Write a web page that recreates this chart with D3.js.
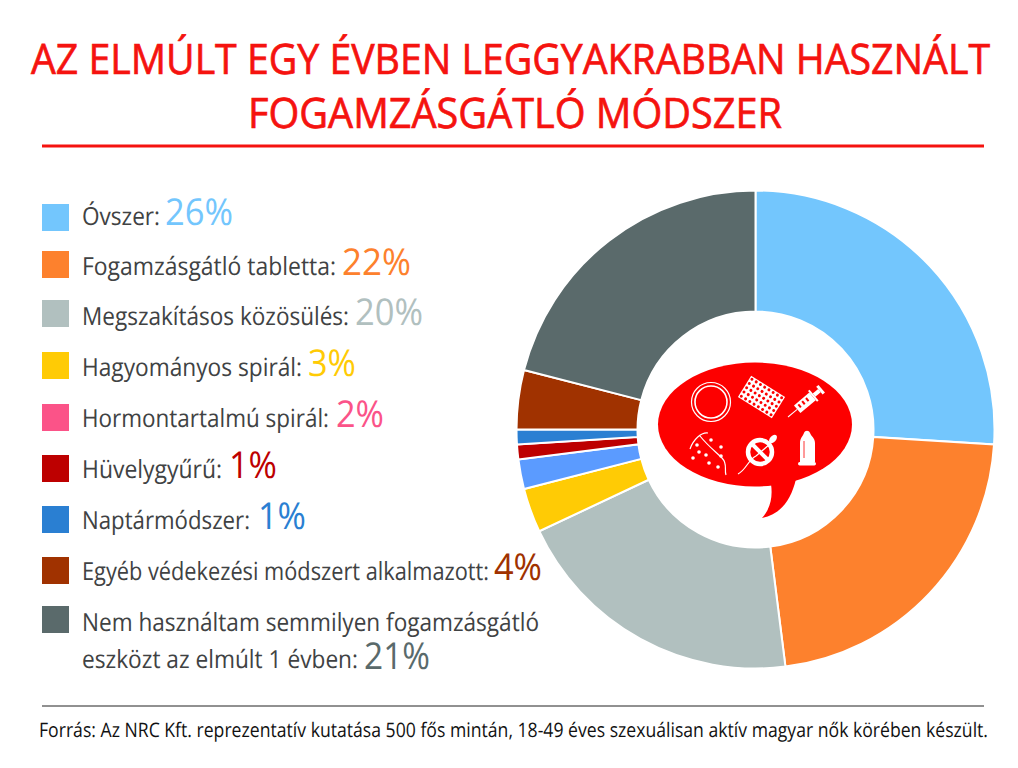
<!DOCTYPE html>
<html>
<head>
<meta charset="utf-8">
<script src="https://cdn.jsdelivr.net/npm/d3@7"></script>
<style>
  html, body { margin: 0; padding: 0; background: #fff; }
  text { font-family: "Open Sans", "Noto Sans", sans-serif; text-rendering: geometricPrecision; }
</style>
</head>
<body>
<svg id="chart" width="1018" height="768"></svg>
<script>
const categories = [
  "Óvszer:", "Fogamzásgátló tabletta:", "Megszakításos közösülés:", "Hagyományos spirál:",
  "Hormontartalmú spirál:", "Hüvelygyűrű:", "Naptármódszer:",
  "Egyéb védekezési módszert alkalmazott:", "Nem használtam semmilyen fogamzásgátló"
];
const lastLine = "eszközt az elmúlt 1 évben:";
const values = [26, 22, 20, 3, 2, 1, 1, 4, 21];
const legendColors = ["#73c6fd", "#fd812d", "#b1c0bf", "#ffcb05", "#fb5388", "#bd0000", "#2a7fd2", "#a03200", "#5a6a6b"];
// the 2% slice is blue in the pie, pink in the legend
const sliceColors = ["#73c6fd", "#fd812d", "#b1c0bf", "#ffcb05", "#5b9bff", "#bd0000", "#2a7fd2", "#a03200", "#5a6a6b"];

const rowY = [225, 275, 325, 376, 427, 478, 529, 580, 631];
const swatchY = [204, 251, 300, 352, 404, 455, 506, 557, 606];
const labelWidths = [78, 254, 267, 220, 247, 140, 168, 407, 457];
const valueX = [165, 342, 355, 308, 336, 229, 258, 494, 364];
const valueWidths = [68, 69, 68, 48, 48, 48, 48, 48, 66];

const svg = d3.select("#chart");
const red = "#f5130f";

// squeeze a text to the width it has in the picture, keeps the bbox honest
function addText(x, y, size, fill, str, width, weight) {
  const t = svg.append("text")
    .attr("font-size", size)
    .attr("font-weight", weight || 400)
    .attr("fill", fill)
    .text(str);
  const k = width / t.node().getComputedTextLength();
  t.attr("transform", `translate(${x},${y}) scale(${k},1)`);
  return t;
}

// title
addText(31, 74, 42, red, "AZ ELMÚLT EGY ÉVBEN LEGGYAKRABBAN HASZNÁLT", 959).attr("stroke", red).attr("stroke-width", 0.7);
addText(248, 128, 42, red, "FOGAMZÁSGÁTLÓ MÓDSZER", 534).attr("stroke", red).attr("stroke-width", 0.7);
svg.append("line").attr("x1", 42).attr("x2", 984).attr("y1", 146).attr("y2", 146).attr("stroke", red).attr("stroke-width", 3);

// legend
categories.forEach((c, i) => {
  svg.append("rect").attr("x", 42).attr("y", swatchY[i]).attr("width", 27).attr("height", 27).attr("fill", legendColors[i]);
  addText(82, rowY[i], 25, "#404243", c, labelWidths[i]);
  if (i < categories.length - 1) {
    addText(valueX[i], rowY[i], 37, legendColors[i], values[i] + "%", valueWidths[i]);
  }
});
const lastIndex = categories.length - 1;
addText(82, 668, 25, "#404243", lastLine, 276);
addText(valueX[lastIndex], 669, 37, legendColors[lastIndex], values[lastIndex] + "%", valueWidths[lastIndex]);

// donut
const pie = d3.pie().sort(null).value(d => d);
const arc = d3.arc().innerRadius(118).outerRadius(239);
const donut = svg.append("g").attr("transform", "translate(755.5,429.5)");
donut.selectAll("path")
  .data(pie(values))
  .enter()
  .append("path")
  .attr("d", arc)
  .attr("fill", (d, i) => sliceColors[i])
  .attr("stroke", "#fff")
  .attr("stroke-width", 2);

// speech bubble with the icons
const bubble = svg.append("g");
bubble.append("ellipse").attr("cx", 755).attr("cy", 424.5).attr("rx", 97).attr("ry", 62).attr("fill", "#fd0000");
bubble.append("path").attr("d", "M771,484 C773,498 770,509 762,518 C781,514 791,500 796,479 Z").attr("fill", "#fd0000");

// ring
bubble.append("circle").attr("cx", 711).attr("cy", 402).attr("r", 19.5).attr("fill", "none").attr("stroke", "#fff").attr("stroke-width", 1.2);
bubble.append("circle").attr("cx", 711).attr("cy", 402).attr("r", 16).attr("fill", "none").attr("stroke", "#fff").attr("stroke-width", 1.6);

// pill pack
const pack = bubble.append("g").attr("transform", "translate(761.5,397) rotate(32)");
pack.append("rect").attr("x", -20).attr("y", -12.5).attr("width", 40).attr("height", 25).attr("fill", "#fff");
d3.range(8).forEach(a => d3.range(5).forEach(b => {
  pack.append("circle").attr("cx", -17.5 + a * 5).attr("cy", -10 + b * 5).attr("r", 1.5).attr("fill", "#fd0000");
}));

// syringe
const syringe = bubble.append("g").attr("transform", "translate(788,417) rotate(-40)");
syringe.append("line").attr("x1", 0).attr("y1", 0).attr("x2", 12).attr("y2", 0).attr("stroke", "#fff").attr("stroke-width", 1);
syringe.append("rect").attr("x", 12).attr("y", -5).attr("width", 20).attr("height", 10).attr("fill", "#fff");
d3.range(3).forEach(a => {
  syringe.append("rect").attr("x", 15 + a * 5).attr("y", -3).attr("width", 2).attr("height", 4).attr("fill", "#fd0000");
});
syringe.append("rect").attr("x", 32).attr("y", -7).attr("width", 2).attr("height", 14).attr("fill", "#fff");
syringe.append("rect").attr("x", 34).attr("y", -2).attr("width", 7).attr("height", 4).attr("fill", "#fff");
syringe.append("rect").attr("x", 41).attr("y", -5).attr("width", 3).attr("height", 10).attr("fill", "#fff");

// spiral
bubble.append("path").attr("d", "M690,449 C693,440 701,432 708,433 M700,436 C708,446 716,452 722,458 C728,464 724,470 726,475")
  .attr("fill", "none").attr("stroke", "#fff").attr("stroke-width", 1.2);
[[697,445],[699,452],[711,440],[721,447],[706,455],[721,456],[693,458],[709,463],[718,467]].forEach(p => {
  bubble.append("circle").attr("cx", p[0]).attr("cy", p[1]).attr("r", 1.8).attr("fill", "#fff");
});

// crossed sperm
bubble.append("circle").attr("cx", 760).attr("cy", 452).attr("r", 12).attr("fill", "none").attr("stroke", "#fff").attr("stroke-width", 4.5);
bubble.append("line").attr("x1", 752).attr("y1", 444).attr("x2", 768).attr("y2", 460).attr("stroke", "#fff").attr("stroke-width", 4);
bubble.append("path").attr("d", "M738,474 C746,470 748,460 756,456 L770,444").attr("fill", "none").attr("stroke", "#fff").attr("stroke-width", 1.2);
bubble.append("ellipse").attr("cx", 773).attr("cy", 439).attr("rx", 3).attr("ry", 5).attr("transform", "rotate(40 773 439)").attr("fill", "#fff");

// condom
bubble.append("path").attr("d", "M800,462 L800,443 C800,438 803,436 804,433 C805,430 809,430 810,433 C811,436 815,438 815,443 L815,462 Z").attr("fill", "#fff");
bubble.append("rect").attr("x", 798).attr("y", 462).attr("width", 18).attr("height", 3.5).attr("rx", 1.7).attr("fill", "#fff");
bubble.append("line").attr("x1", 804).attr("x2", 804).attr("y1", 441).attr("y2", 458).attr("stroke", "#fd0000").attr("stroke-width", 0.8);

// source
svg.append("line").attr("x1", 42).attr("x2", 984).attr("y1", 706).attr("y2", 706).attr("stroke", "#222").attr("stroke-width", 1);
addText(39, 737, 20, "#111", "Forrás: Az NRC Kft. reprezentatív kutatása 500 fős mintán, 18-49 éves szexuálisan aktív magyar nők körében készült.", 949);
</script>
</body>
</html>
